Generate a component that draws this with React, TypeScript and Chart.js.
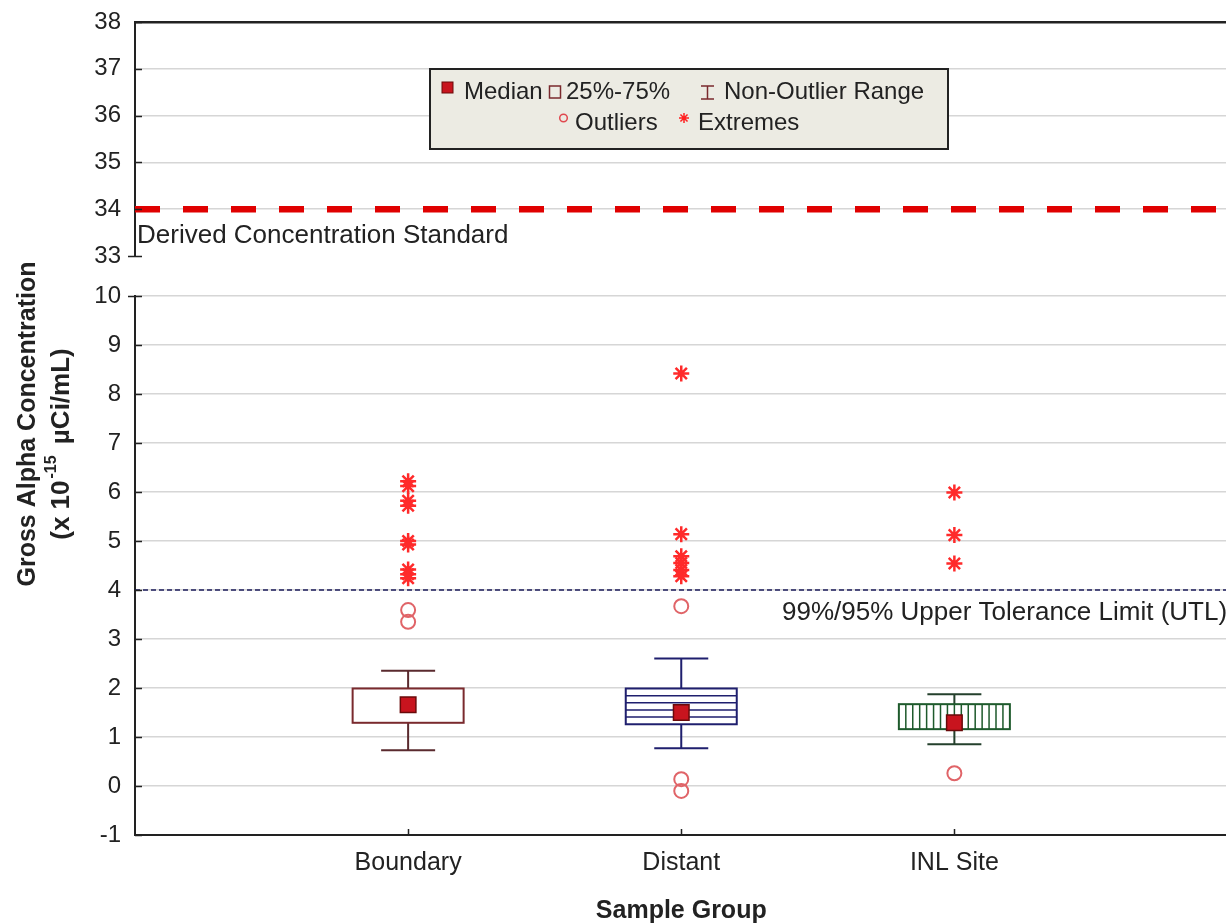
import React, { useEffect, useRef } from 'react';
import { Chart, registerables } from 'chart.js';

Chart.register(...registerables);

// ---------- data ----------
const categories = ['Boundary', 'Distant', 'INL Site'];
const q1Values = [1.29, 1.26, 1.16];
const q3Values = [1.99, 1.99, 1.67];
const medianValues = [1.66, 1.5, 1.29];
const whiskerLow = [0.73, 0.77, 0.85];
const whiskerHigh = [2.35, 2.6, 1.87];
const outliersBoundary = [3.59, 3.35];
const outliersDistant = [3.67, 0.14, -0.1];
const outliersINL = [0.26];
const extremesBoundary = [6.22, 6.12, 5.82, 5.72, 5.0, 4.93, 4.42, 4.32, 4.24];
const extremesDistant = [8.42, 5.14, 4.69, 4.55, 4.41, 4.28];
const extremesINL = [5.99, 5.12, 4.54];
const topRange = [33, 38];
const bottomRange = [-1, 10];
const dcsValue = 34;
const utlValue = 4;
const dcsLabel = 'Derived Concentration Standard';
const utlLabel = '99%/95% Upper Tolerance Limit (UTL)';
const xTitle = 'Sample Group';
const yTitleLine1 = 'Gross Alpha Concentration';
const yTitleLine2Parts = ['(x 10', '-15', ' µCi/mL)'];
const legendRow1 = ['Median', '25%-75%', 'Non-Outlier Range'];
const legendRow2 = ['Outliers', 'Extremes'];

// ---------- styles ----------
const FONT = "'Liberation Sans', Arial, Helvetica, sans-serif";
const TEXT = '#222222';
const GRID = '#d6d6d6';
const AXIS = '#222222';
const boxStyles = [
  { stroke: '#7a2a2e', whisker: '#5a2a2e', hatch: '' },
  { stroke: '#1f1f6e', whisker: '#1f1f6e', hatch: 'h' },
  { stroke: '#1e5a2c', whisker: '#24402c', hatch: 'v' },
];

const groupPoints = (groups: number[][]) =>
  groups.flatMap((vals, i) => vals.map((v) => ({ x: i + 1, y: v })));

const innerTicks = (chart: any, outerAt: number[]) => {
  const { ctx, chartArea, scales } = chart;
  const y = scales.y;
  ctx.save();
  ctx.strokeStyle = AXIS;
  ctx.lineWidth = 1.5;
  ctx.beginPath();
  y.ticks.forEach((t: any) => {
    const py = Math.round(y.getPixelForValue(t.value)) + 0.5;
    ctx.moveTo(chartArea.left, py);
    ctx.lineTo(chartArea.left + 7, py);
    if (outerAt.includes(t.value)) {
      ctx.moveTo(chartArea.left - 7, py);
      ctx.lineTo(chartArea.left, py);
    }
  });
  ctx.stroke();
  ctx.restore();
};

const topPlugin = {
  id: 'topDecor',
  afterDraw(chart: any) {
    const { ctx, chartArea, scales } = chart;
    innerTicks(chart, [topRange[0]]);
    // DCS label
    ctx.save();
    ctx.fillStyle = TEXT;
    ctx.font = `26px ${FONT}`;
    ctx.textBaseline = 'middle';
    ctx.textAlign = 'left';
    ctx.fillText(dcsLabel, chartArea.left + 2, scales.y.getPixelForValue(dcsValue) + 27);

    // legend box
    ctx.fillStyle = '#ecebe3';
    ctx.fillRect(430, 69, 518, 80);
    ctx.strokeStyle = '#222';
    ctx.lineWidth = 2;
    ctx.strokeRect(430, 69, 518, 80);

    ctx.font = `24px ${FONT}`;
    ctx.fillStyle = TEXT;
    const r1 = 92;
    const r2 = 123;
    // median symbol
    ctx.fillStyle = '#c8141e';
    ctx.fillRect(442, 82, 11, 11);
    ctx.strokeStyle = '#6a0a0a';
    ctx.lineWidth = 1;
    ctx.strokeRect(442, 82, 11, 11);
    ctx.fillStyle = TEXT;
    ctx.fillText(legendRow1[0], 464, r1);
    // box symbol
    ctx.strokeStyle = '#7a2a2e';
    ctx.lineWidth = 1.5;
    ctx.strokeRect(549.5, 86, 11, 12);
    ctx.fillText(legendRow1[1], 566, r1);
    // whisker symbol
    ctx.beginPath();
    ctx.moveTo(701, 86); ctx.lineTo(714, 86);
    ctx.moveTo(707.5, 86); ctx.lineTo(707.5, 99);
    ctx.moveTo(701, 99); ctx.lineTo(714, 99);
    ctx.stroke();
    ctx.fillText(legendRow1[2], 724, r1);
    // outlier symbol
    ctx.strokeStyle = '#e0484f';
    ctx.lineWidth = 1.5;
    ctx.beginPath();
    ctx.arc(563.5, 118, 3.8, 0, Math.PI * 2);
    ctx.stroke();
    ctx.fillText(legendRow2[0], 575, r2);
    // extreme symbol
    ctx.strokeStyle = '#ff2020';
    ctx.beginPath();
    const sx = 684, sy = 118, sr = 5;
    for (let k = 0; k < 4; k++) {
      const a = (k * Math.PI) / 4;
      ctx.moveTo(sx - Math.cos(a) * sr, sy - Math.sin(a) * sr);
      ctx.lineTo(sx + Math.cos(a) * sr, sy + Math.sin(a) * sr);
    }
    ctx.stroke();
    ctx.fillText(legendRow2[1], 698, r2);
    ctx.restore();
  },
};

const boxPlugin = {
  id: 'boxes',
  beforeDatasetsDraw(chart: any) {
    const { ctx, scales } = chart;
    const x = scales.x;
    const y = scales.y;
    categories.forEach((_, i) => {
      const st = boxStyles[i];
      const cx = x.getPixelForValue(i + 1);
      const half = 55.5;
      const cap = 27;
      const yq1 = y.getPixelForValue(q1Values[i]);
      const yq3 = y.getPixelForValue(q3Values[i]);
      const ylo = y.getPixelForValue(whiskerLow[i]);
      const yhi = y.getPixelForValue(whiskerHigh[i]);
      ctx.save();
      ctx.strokeStyle = st.whisker;
      ctx.lineWidth = 2;
      ctx.beginPath();
      ctx.moveTo(cx, yq3); ctx.lineTo(cx, yhi);
      ctx.moveTo(cx - cap, yhi); ctx.lineTo(cx + cap, yhi);
      ctx.moveTo(cx, yq1); ctx.lineTo(cx, ylo);
      ctx.moveTo(cx - cap, ylo); ctx.lineTo(cx + cap, ylo);
      ctx.stroke();
      ctx.fillStyle = '#ffffff';
      ctx.fillRect(cx - half, yq3, 2 * half, yq1 - yq3);
      ctx.strokeStyle = st.stroke;
      ctx.lineWidth = 1.5;
      ctx.beginPath();
      if (st.hatch === 'h') {
        const step = (yq1 - yq3) / 5;
        for (let k = 1; k < 5; k++) {
          ctx.moveTo(cx - half, yq3 + k * step);
          ctx.lineTo(cx + half, yq3 + k * step);
        }
      } else if (st.hatch === 'v') {
        const n = 16;
        const step = (2 * half) / n;
        for (let k = 1; k < n; k++) {
          ctx.moveTo(cx - half + k * step, yq3);
          ctx.lineTo(cx - half + k * step, yq1);
        }
      }
      ctx.stroke();
      ctx.lineWidth = 2;
      ctx.strokeRect(cx - half, yq3, 2 * half, yq1 - yq3);
      ctx.restore();
    });
  },
};

const bottomPlugin = {
  id: 'bottomDecor',
  afterDraw(chart: any) {
    const { ctx, chartArea, scales } = chart;
    innerTicks(chart, [bottomRange[1]]);
    // x inner ticks
    ctx.save();
    ctx.strokeStyle = AXIS;
    ctx.lineWidth = 1.5;
    ctx.beginPath();
    categories.forEach((_, i) => {
      const px = Math.round(scales.x.getPixelForValue(i + 1)) + 0.5;
      ctx.moveTo(px, chartArea.bottom);
      ctx.lineTo(px, chartArea.bottom - 6);
    });
    ctx.stroke();

    // UTL label
    ctx.fillStyle = TEXT;
    ctx.font = `26px ${FONT}`;
    ctx.textBaseline = 'middle';
    ctx.textAlign = 'left';
    ctx.fillText(utlLabel, 782, scales.y.getPixelForValue(utlValue) + 23);

    // y title line 1
    ctx.save();
    ctx.translate(28, 424);
    ctx.rotate(-Math.PI / 2);
    ctx.font = `bold 25px ${FONT}`;
    ctx.textAlign = 'center';
    ctx.fillText(yTitleLine1, 0, 0);
    ctx.restore();

    // y title line 2 with superscript
    ctx.save();
    ctx.translate(62, 444);
    ctx.rotate(-Math.PI / 2);
    ctx.textAlign = 'left';
    const mainFont = `bold 26px ${FONT}`;
    const supFont = `bold 16px ${FONT}`;
    ctx.font = mainFont;
    const w0 = ctx.measureText(yTitleLine2Parts[0]).width;
    const w2 = ctx.measureText(yTitleLine2Parts[2]).width;
    ctx.font = supFont;
    const w1 = ctx.measureText(yTitleLine2Parts[1]).width;
    const total = w0 + w1 + w2 + 6;
    let px = -total / 2;
    ctx.font = mainFont;
    ctx.fillText(yTitleLine2Parts[0], px, 0);
    px += w0 + 2;
    ctx.font = supFont;
    ctx.fillText(yTitleLine2Parts[1], px, -10);
    px += w1 + 4;
    ctx.font = mainFont;
    ctx.fillText(yTitleLine2Parts[2], px, 0);
    ctx.restore();
    ctx.restore();
  },
};

export default function App() {
  const topRef = useRef<HTMLCanvasElement>(null);
  const botRef = useRef<HTMLCanvasElement>(null);

  useEffect(() => {
    const tickFont = { family: FONT, size: 24 };
    const top = new Chart(topRef.current as HTMLCanvasElement, {
      type: 'scatter',
      data: {
        datasets: [
          {
            data: [
              { x: 0, y: dcsValue },
              { x: 4, y: dcsValue },
            ],
            showLine: true,
            borderColor: '#e00000',
            borderWidth: 6.5,
            borderDash: [25, 23],
            borderCapStyle: 'butt',
            pointRadius: 0,
          } as any,
        ],
      },
      options: {
        responsive: false,
        animation: false,
        events: [],
        layout: { padding: { top: 22, bottom: 24, left: 0, right: 7 } },
        plugins: { legend: { display: false }, tooltip: { enabled: false } },
        scales: {
          x: { type: 'linear', min: 0, max: 4, display: false },
          y: {
            type: 'linear',
            min: topRange[0],
            max: topRange[1],
            afterFit: (s: any) => {
              s.width = 135;
              s.paddingTop = 0;
              s.paddingBottom = 0;
            },
            ticks: { stepSize: 1, padding: 14, color: TEXT, font: tickFont },
            grid: {
              drawTicks: false,
              color: (c: any) =>
                c.tick.value === topRange[1] ? AXIS : c.tick.value === topRange[0] ? 'rgba(0,0,0,0)' : GRID,
              lineWidth: (c: any) => (c.tick.value === topRange[1] ? 2.5 : 1.5),
            },
            border: { display: true, color: AXIS, width: 2 },
          },
        },
      } as any,
      plugins: [topPlugin],
    });

    const bot = new Chart(botRef.current as HTMLCanvasElement, {
      type: 'scatter',
      data: {
        datasets: [
          {
            data: [
              { x: 0, y: utlValue },
              { x: 4, y: utlValue },
            ],
            showLine: true,
            borderColor: '#1c1c5c',
            borderWidth: 1.5,
            borderDash: [5, 3],
            pointRadius: 0,
          } as any,
          {
            data: groupPoints([extremesBoundary, extremesDistant, extremesINL]),
            pointStyle: 'star',
            pointRadius: 8,
            borderColor: '#ff2a2a',
            borderWidth: 2.5,
            backgroundColor: '#ff2a2a',
          },
          {
            data: groupPoints([outliersBoundary, outliersDistant, outliersINL]),
            pointStyle: 'circle',
            pointRadius: 7,
            borderColor: '#e06468',
            borderWidth: 2,
            backgroundColor: 'rgba(0,0,0,0)',
          },
          {
            data: medianValues.map((v, i) => ({ x: i + 1, y: v })),
            pointStyle: 'rect',
            pointRadius: 11,
            backgroundColor: '#c8141e',
            borderColor: '#6a0a0a',
            borderWidth: 1.5,
          },
        ],
      },
      options: {
        responsive: false,
        animation: false,
        events: [],
        layout: { padding: { top: 296, bottom: 0, left: 0, right: 7 } },
        plugins: { legend: { display: false }, tooltip: { enabled: false } },
        scales: {
          x: {
            type: 'linear',
            min: 0,
            max: 4,
            afterFit: (s: any) => {
              s.height = 88;
            },
            afterBuildTicks: (s: any) => {
              s.ticks = categories.map((_, i) => ({ value: i + 1 }));
            },
            ticks: {
              callback: (v: any) => categories[Number(v) - 1] ?? '',
              padding: 13,
              color: TEXT,
              font: { family: FONT, size: 25 },
              maxRotation: 0,
              autoSkip: false,
            },
            grid: { display: false, drawTicks: false },
            border: { display: true, color: AXIS, width: 2 },
            title: {
              display: true,
              text: xTitle,
              color: TEXT,
              font: { family: FONT, size: 25, weight: 'bold' },
              padding: { top: 0, bottom: -3 },
            },
          },
          y: {
            type: 'linear',
            min: bottomRange[0],
            max: bottomRange[1],
            afterFit: (s: any) => {
              s.width = 135;
            },
            ticks: { stepSize: 1, padding: 14, color: TEXT, font: tickFont },
            grid: {
              drawTicks: false,
              color: (c: any) => (c.tick.value === bottomRange[0] ? 'rgba(0,0,0,0)' : GRID),
              lineWidth: 1.5,
            },
            border: { display: true, color: AXIS, width: 2 },
          },
        },
      } as any,
      plugins: [boxPlugin, bottomPlugin],
    });

    return () => {
      top.destroy();
      bot.destroy();
    };
  }, []);

  return (
    <div
      style={{
        position: 'fixed',
        left: 0,
        top: 0,
        width: 1226,
        height: 923,
        overflow: 'hidden',
        background: '#ffffff',
      }}
    >
      <canvas ref={botRef} width={1240} height={923} style={{ position: 'absolute', left: 0, top: 0 }} />
      <canvas ref={topRef} width={1240} height={280} style={{ position: 'absolute', left: 0, top: 0 }} />
    </div>
  );
}
